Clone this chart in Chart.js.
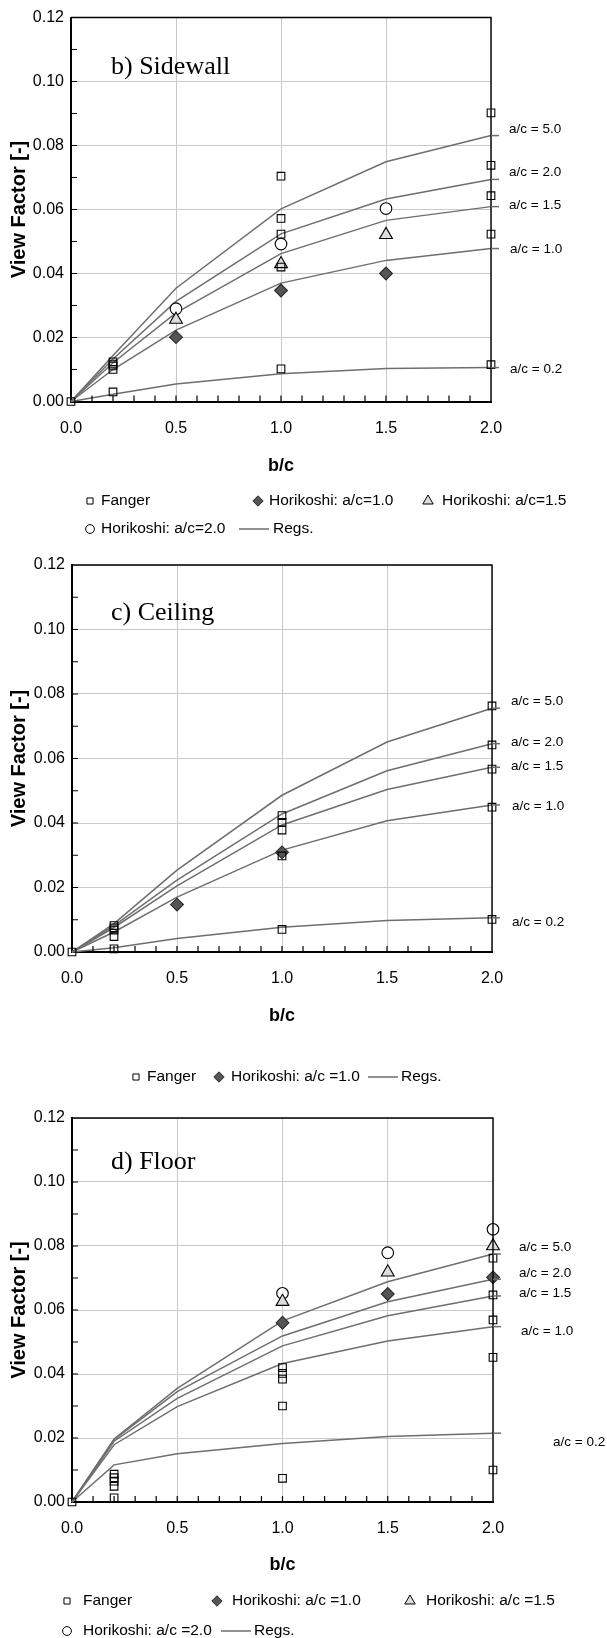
<!DOCTYPE html>
<html><head><meta charset="utf-8">
<script src="https://cdn.jsdelivr.net/npm/chart.js@4.4.1/dist/chart.umd.min.js"></script>
<style>
html,body{margin:0;padding:0;background:#fff;}
body{width:607px;height:1638px;position:relative;overflow:hidden;}
canvas{position:absolute;left:0;}
</style></head><body>
<canvas id="c1"></canvas><canvas id="c2"></canvas><canvas id="c3"></canvas>
<script>
// ---------------- DATA ----------------
const xTicks = [0, 0.5, 1.0, 1.5, 2.0];
const yTicks = [0, 0.02, 0.04, 0.06, 0.08, 0.10, 0.12];
const xMinorStep = 0.1, yMinorStep = 0.01;
const xReg = [0, 0.2, 0.5, 1.0, 1.5, 2.0];
const acLabels = ['a/c = 5.0', 'a/c = 2.0', 'a/c = 1.5', 'a/c = 1.0', 'a/c = 0.2'];
const fangerX = [0, 0.2, 0.2, 0.2, 0.2, 0.2, 1.0, 1.0, 1.0, 1.0, 1.0, 2.0, 2.0, 2.0, 2.0, 2.0];
const horiX = [0.5, 1.0, 1.5];
const horiCeilX = [0.5, 1.0];
const horiFloorX = [1.0, 1.5, 2.0];

// b) Sidewall
const sideReg50 = [0, 0.0144, 0.0354, 0.0602, 0.0749, 0.0831];
const sideReg20 = [0, 0.0133, 0.0313, 0.0524, 0.0633, 0.0694];
const sideReg15 = [0, 0.0121, 0.0277, 0.0462, 0.0566, 0.0609];
const sideReg10 = [0, 0.0100, 0.0223, 0.0370, 0.0441, 0.0478];
const sideReg02 = [0, 0.0023, 0.0055, 0.0087, 0.0103, 0.0106];
const sideFanger = [0, 0.0124, 0.0117, 0.0111, 0.0100, 0.0030, 0.0704, 0.0572, 0.0523, 0.0420, 0.0102, 0.0902, 0.0738, 0.0643, 0.0523, 0.0115];
const sideHori10 = [0.0201, 0.0347, 0.0400];
const sideHori15 = [0.0256, 0.0430, 0.0521];
const sideHori20 = [0.0290, 0.0492, 0.0603];
const sideLabelAt = [0.0852, 0.0715, 0.0613, 0.0475, 0.0102];

// c) Ceiling
const ceilReg50 = [0, 0.0088, 0.0254, 0.0486, 0.0651, 0.0756];
const ceilReg20 = [0, 0.0082, 0.0223, 0.0428, 0.0562, 0.0646];
const ceilReg15 = [0, 0.0076, 0.0205, 0.0394, 0.0504, 0.0573];
const ceilReg10 = [0, 0.0062, 0.0170, 0.0316, 0.0407, 0.0456];
const ceilReg02 = [0, 0.0013, 0.0042, 0.0077, 0.0098, 0.0106];
const ceilFanger = [0, 0.0082, 0.0075, 0.0068, 0.0048, 0.0010, 0.0423, 0.0402, 0.0378, 0.0298, 0.0070, 0.0763, 0.0642, 0.0567, 0.0449, 0.0101];
const ceilHori10 = [0.0147, 0.0309];
const ceilLabelAt = [0.0776, 0.0649, 0.0577, 0.0453, 0.0091];

// d) Floor
const floorReg50 = [0, 0.0197, 0.0355, 0.0566, 0.0688, 0.0775];
const floorReg20 = [0, 0.0195, 0.0345, 0.0519, 0.0626, 0.0696];
const floorReg15 = [0, 0.0190, 0.0324, 0.0488, 0.0582, 0.0644];
const floorReg10 = [0, 0.0179, 0.0298, 0.0433, 0.0503, 0.0548];
const floorReg02 = [0, 0.0116, 0.0151, 0.0183, 0.0205, 0.0215];
const floorFanger = [0, 0.0087, 0.0076, 0.0065, 0.0049, 0.0013, 0.0420, 0.0402, 0.0384, 0.0300, 0.0074, 0.0762, 0.0647, 0.0569, 0.0452, 0.0100];
const floorHori10 = [0.0560, 0.0650, 0.0702];
const floorHori15 = [0.0626, 0.0718, 0.0800];
const floorHori20 = [0.0652, 0.0779, 0.0852];
const floorLabelAt = [0.0795, 0.0715, 0.0652, 0.0532, 0.0188];

// ---------------- FONTS / STYLES ----------------
const SANS = "'Liberation Sans', Arial, sans-serif";
const SERIF = "'Liberation Serif', 'Times New Roman', serif";
const TICK_SIZE = 16, LEG_SIZE = 15.5, LAB_SIZE = 13.5, XT_SIZE = 18, YT_SIZE = 20, TITLE_SIZE = 26;
const REG_COLOR = '#6e6e6e';
const GRID_COLOR = '#c9c9c9';
const ST = {
  fanger: {pointStyle: 'rect', radius: 5.4, bg: 'rgba(255,255,255,0)', bd: '#000', lr: 4.3},
  h10: {pointStyle: 'rectRot', radius: 6.4, bg: '#555555', bd: '#2b2b2b', lr: 5.2},
  h15: {pointStyle: 'triangle', radius: 7.4, bg: '#dcdcdc', bd: '#000', lr: 6},
  h20: {pointStyle: 'circle', radius: 5.8, bg: '#ffffff', bd: '#000', lr: 4.4}
};

const W = 607;
const CHARTS = [
  {
    id: 'c1', top: 0, h: 548,
    plot: {left: 71, right: 491, top: 17.5, bottom: 401.5},
    title: 'b) Sidewall', titleX: 111, titleY: 74,
    xLabelCenter: 429, xTitleY: 466, yTitleX: 19,
    fanger: sideFanger,
    hori: [{x: horiX, y: sideHori10, st: 'h10'}, {x: horiX, y: sideHori15, st: 'h15'}, {x: horiX, y: sideHori20, st: 'h20'}],
    regs: [sideReg50, sideReg20, sideReg15, sideReg10, sideReg02],
    labelAt: sideLabelAt, labelX: [509, 509, 509, 510, 510], leader: 8,
    legend: [
      {st: 'fanger', mx: 90, tx: 101, y: 501, text: 'Fanger'},
      {st: 'h10', mx: 258, tx: 269, y: 501, text: 'Horikoshi: a/c=1.0'},
      {st: 'h15', mx: 428, tx: 442, y: 501, text: 'Horikoshi: a/c=1.5'},
      {st: 'h20', mx: 90, tx: 101, y: 529, text: 'Horikoshi: a/c=2.0'},
      {st: 'line', mx: 239, mx2: 269, tx: 273, y: 529, text: 'Regs.'}
    ]
  },
  {
    id: 'c2', top: 548, h: 542,
    plot: {left: 72, right: 492, top: 565, bottom: 952},
    title: 'c) Ceiling', titleX: 111, titleY: 620,
    xLabelCenter: 979, xTitleY: 1016, yTitleX: 19,
    fanger: ceilFanger,
    hori: [{x: horiCeilX, y: ceilHori10, st: 'h10'}],
    regs: [ceilReg50, ceilReg20, ceilReg15, ceilReg10, ceilReg02],
    labelAt: ceilLabelAt, labelX: [511, 511, 511, 512, 512], leader: 8,
    legend: [
      {st: 'fanger', mx: 136, tx: 147, y: 1077, text: 'Fanger'},
      {st: 'h10', mx: 219, tx: 231, y: 1077, text: 'Horikoshi: a/c =1.0'},
      {st: 'line', mx: 368, mx2: 398, tx: 401, y: 1077, text: 'Regs.'}
    ]
  },
  {
    id: 'c3', top: 1090, h: 548,
    plot: {left: 72, right: 493, top: 1118, bottom: 1502},
    title: 'd) Floor', titleX: 111, titleY: 1169,
    xLabelCenter: 1529, xTitleY: 1565, yTitleX: 19,
    fanger: floorFanger,
    hori: [{x: horiFloorX, y: floorHori10, st: 'h10'}, {x: horiFloorX, y: floorHori15, st: 'h15'}, {x: horiFloorX, y: floorHori20, st: 'h20'}],
    regs: [floorReg50, floorReg20, floorReg15, floorReg10, floorReg02],
    labelAt: floorLabelAt, labelX: [519, 519, 519, 521, 553], leader: 8,
    legend: [
      {st: 'fanger', mx: 67, tx: 83, y: 1601, text: 'Fanger'},
      {st: 'h10', mx: 217, tx: 232, y: 1601, text: 'Horikoshi: a/c =1.0'},
      {st: 'h15', mx: 410, tx: 426, y: 1601, text: 'Horikoshi: a/c =1.5'},
      {st: 'h20', mx: 67, tx: 83, y: 1631, text: 'Horikoshi: a/c =2.0'},
      {st: 'line', mx: 221, mx2: 251, tx: 254, y: 1631, text: 'Regs.'}
    ]
  }
];

function build(cfg) {
  const cv = document.getElementById(cfg.id);
  const H = cfg.h, off = cfg.top, P = cfg.plot;
  cv.width = W; cv.height = H;
  cv.style.top = off + 'px'; cv.style.width = W + 'px'; cv.style.height = H + 'px';

  const datasets = [];
  const f = ST.fanger;
  datasets.push({
    label: 'Fanger', data: cfg.fanger.map((v, i) => ({x: fangerX[i], y: v})),
    pointStyle: f.pointStyle, pointRadius: f.radius, backgroundColor: f.bg, borderColor: f.bd,
    borderWidth: 1.1, showLine: false, clip: false
  });
  cfg.hori.forEach(h => {
    const s = ST[h.st];
    datasets.push({
      label: h.st, data: h.y.map((v, i) => ({x: h.x[i], y: v})),
      pointStyle: s.pointStyle, pointRadius: s.radius, backgroundColor: s.bg, borderColor: s.bd,
      borderWidth: 1.1, showLine: false, clip: false
    });
  });
  cfg.regs.forEach((r, k) => {
    datasets.push({
      label: acLabels[k], data: r.map((v, i) => ({x: xReg[i], y: v})),
      showLine: true, pointRadius: 0, borderColor: REG_COLOR, borderWidth: 1.5,
      backgroundColor: REG_COLOR, tension: 0, clip: false
    });
  });

  const lh = TICK_SIZE * 1.2;
  const xPad = cfg.xLabelCenter - P.bottom - lh / 2;

  const decor = {
    id: 'decor' + cfg.id,
    afterDraw(chart) {
      const {ctx, chartArea: a, scales: {x, y}} = chart;
      const X = v => x.getPixelForValue(v), Y = v => y.getPixelForValue(v);
      ctx.save();
      // top/right frame
      ctx.strokeStyle = '#000'; ctx.lineWidth = 1.4;
      ctx.beginPath(); ctx.moveTo(a.left, a.top); ctx.lineTo(a.right, a.top); ctx.lineTo(a.right, a.bottom); ctx.stroke();
      // inward minor ticks
      ctx.lineWidth = 1.2; ctx.beginPath();
      for (let i = 1; i * xMinorStep < 2 - 1e-9; i++) { const px = X(i * xMinorStep); ctx.moveTo(px, a.bottom); ctx.lineTo(px, a.bottom - 6); }
      for (let j = 1; j * yMinorStep < 0.12 - 1e-9; j++) { const py = Y(j * yMinorStep); ctx.moveTo(a.left, py); ctx.lineTo(a.left + 6, py); }
      ctx.stroke();
      // leaders
      ctx.strokeStyle = REG_COLOR; ctx.lineWidth = 1.5;
      cfg.regs.forEach(r => {
        const yy = Y(r[r.length - 1]);
        ctx.beginPath(); ctx.moveTo(a.right, yy); ctx.lineTo(a.right + cfg.leader, yy); ctx.stroke();
      });
      // right labels
      ctx.fillStyle = '#000'; ctx.textAlign = 'left'; ctx.textBaseline = 'middle';
      ctx.font = LAB_SIZE + 'px ' + SANS;
      cfg.labelAt.forEach((v, i) => ctx.fillText(acLabels[i], cfg.labelX[i], Y(v)));
      // panel title
      ctx.font = TITLE_SIZE + 'px ' + SERIF;
      ctx.textBaseline = 'alphabetic';
      ctx.fillText(cfg.title, cfg.titleX, cfg.titleY - off);
      // y title
      ctx.save();
      ctx.translate(cfg.yTitleX, (a.top + a.bottom) / 2);
      ctx.rotate(-Math.PI / 2);
      ctx.font = 'bold ' + YT_SIZE + 'px ' + SANS;
      ctx.textAlign = 'center'; ctx.textBaseline = 'middle';
      ctx.fillText('View Factor [-]', 0, 0);
      ctx.restore();
      // x title
      ctx.font = 'bold ' + XT_SIZE + 'px ' + SANS;
      ctx.textAlign = 'center'; ctx.textBaseline = 'middle';
      ctx.fillText('b/c', (a.left + a.right) / 2, cfg.xTitleY - off);
      // legend
      ctx.font = LEG_SIZE + 'px ' + SANS;
      cfg.legend.forEach(it => {
        const yy = it.y - off;
        if (it.st === 'line') {
          ctx.strokeStyle = REG_COLOR; ctx.lineWidth = 1.5;
          ctx.beginPath(); ctx.moveTo(it.mx, yy); ctx.lineTo(it.mx2, yy); ctx.stroke();
        } else {
          const s = ST[it.st];
          ctx.fillStyle = s.bg; ctx.strokeStyle = s.bd; ctx.lineWidth = 1;
          Chart.helpers.drawPoint(ctx, {pointStyle: s.pointStyle, radius: s.lr, rotation: 0, borderWidth: 1}, it.mx, yy);
        }
        ctx.fillStyle = '#000'; ctx.textAlign = 'left'; ctx.textBaseline = 'middle';
        ctx.fillText(it.text, it.tx, yy);
      });
      ctx.restore();
    }
  };

  new Chart(cv, {
    type: 'scatter',
    data: {datasets},
    options: {
      responsive: false, animation: false, events: [],
      layout: {padding: {top: P.top - off, right: W - P.right, left: 0, bottom: 0}},
      plugins: {legend: {display: false}, tooltip: {enabled: false}, title: {display: false}},
      scales: {
        x: {
          type: 'linear', min: 0, max: 2,
          afterFit(s) { s.height = H - (P.bottom - off); },
          afterBuildTicks(s) { s.ticks = xTicks.map(v => ({value: v})); },
          ticks: {padding: xPad, color: '#000', font: {family: SANS, size: TICK_SIZE}, callback: v => Number(v).toFixed(1), maxRotation: 0, autoSkip: false},
          grid: {color: GRID_COLOR, lineWidth: 1, drawTicks: false},
          border: {color: '#000', width: 2}
        },
        y: {
          type: 'linear', min: 0, max: 0.12,
          afterFit(s) { s.width = P.left; },
          afterBuildTicks(s) { s.ticks = yTicks.map(v => ({value: v})); },
          ticks: {padding: 7, color: '#000', font: {family: SANS, size: TICK_SIZE}, callback: v => Number(v).toFixed(2), autoSkip: false},
          grid: {color: GRID_COLOR, lineWidth: 1, drawTicks: false},
          border: {color: '#000', width: 2}
        }
      }
    },
    plugins: [decor]
  });
}
CHARTS.forEach(build);
</script>
</body></html>
